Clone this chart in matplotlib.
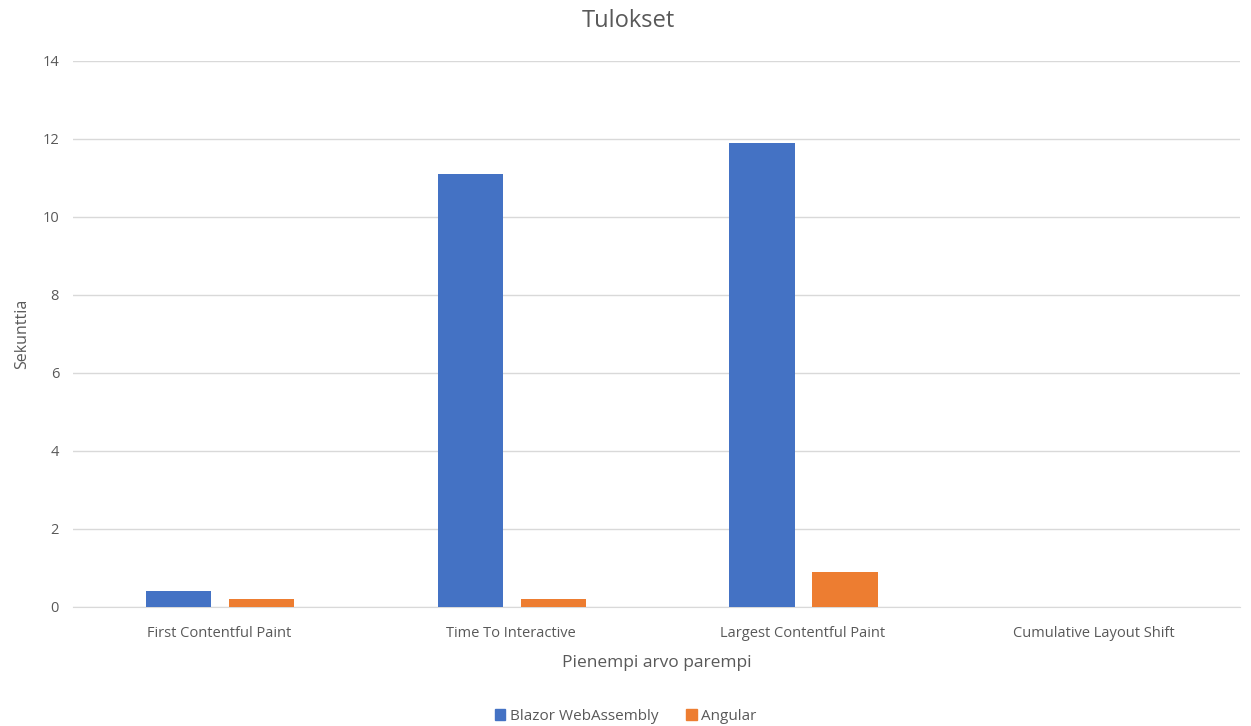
import numpy as np
import matplotlib.pyplot as plt
from matplotlib.patches import Patch

categories = ['First Contentful Paint', 'Time To Interactive',
              'Largest Contentful Paint', 'Cumulative Layout Shift']
blazor = [0.4, 11.1, 11.9, 0.0]
angular = [0.2, 0.2, 0.9, 0.0]
series_names = ['Blazor WebAssembly', 'Angular']
yticks = [0, 2, 4, 6, 8, 10, 12, 14]

plt.rcParams['font.family'] = ['Open Sans', 'DejaVu Sans']
txt = '#595959'

fig = plt.figure(figsize=(12.51, 7.26), dpi=100)
ax = fig.add_axes([73/1251, 1-607/726, (1240-73)/1251, (607-61)/726])

x = np.arange(len(categories))
w = 1/4.46  # excel: gap 219%, overlap -27%
off = 0.635*w
ax.bar(x-off+0.004, blazor, w, color='#4472C4', zorder=3)
ax.bar(x+off+0.004, angular, w, color='#ED7D31', zorder=3)

ax.set_xlim(-0.5, len(categories)-0.5)
ax.set_ylim(0, 14)
ax.set_yticks(yticks)
ax.set_xticks(x)
ax.set_xticklabels(categories)
ax.grid(axis='y', color='#d9d9d9', lw=1, zorder=0)
for s in ['top', 'right', 'left']:
    ax.spines[s].set_visible(False)
ax.spines['bottom'].set_color('#d9d9d9')
ax.tick_params(length=0, labelsize=10.5, colors=txt)
ax.tick_params(axis='x', pad=14)
ax.tick_params(axis='y', pad=10)

fig.suptitle('Tulokset', fontsize=17, color=txt, x=628/1251, y=1-21/726, va='center')
ax.set_xlabel('Pienempi arvo parempi', fontsize=12.5, color=txt, labelpad=10)
ax.set_ylabel('Sekunttia', fontsize=11.5, color=txt, labelpad=9)

handles = [Patch(color='#4472C4'), Patch(color='#ED7D31')]
fig.legend(handles, series_names, loc='center', bbox_to_anchor=(0.5, 1-716/726),
           ncol=2, frameon=False, fontsize=11, labelcolor=txt,
           handlelength=0.7, handleheight=0.7, handletextpad=0.3, columnspacing=1.8)

fig.savefig('out.png', dpi=100)
